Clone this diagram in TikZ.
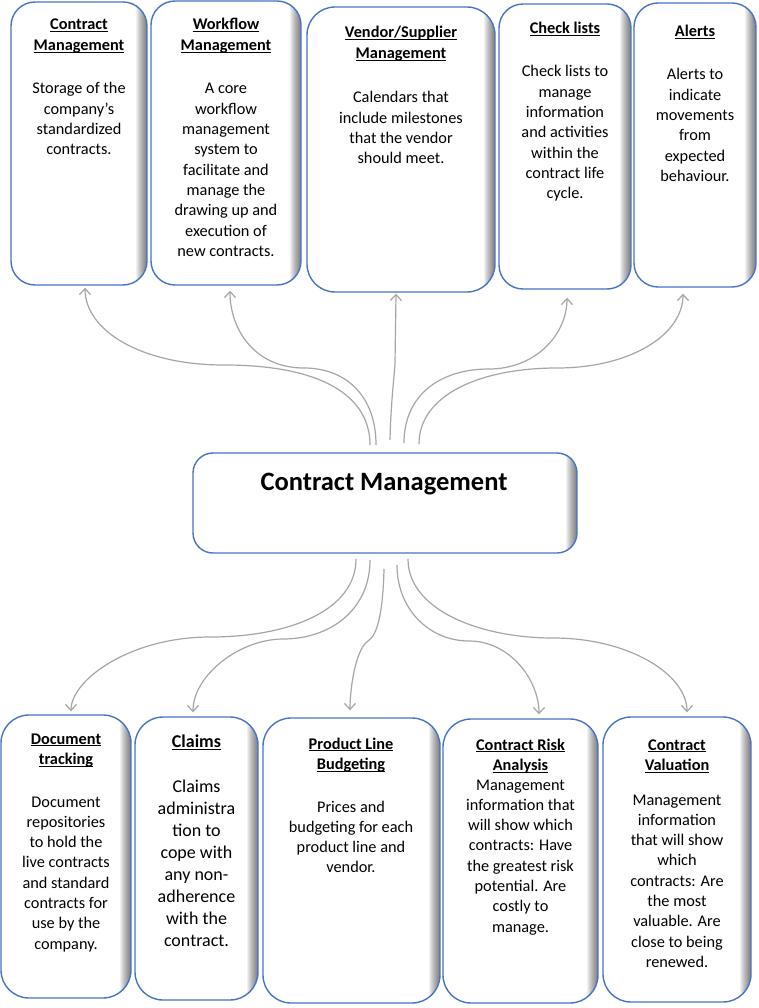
\documentclass[tikz,border=0pt]{standalone}
\usepackage{fontspec}
\setmainfont{Carlito}
\usetikzlibrary{arrows.meta,calc}
\definecolor{boxblue}{RGB}{72,116,196}
\definecolor{conngray}{RGB}{166,166,166}
\newcommand\ulin[1]{\setbox0\hbox{#1}\rlap{\rule[-2.3pt]{\wd0}{0.9pt}}\box0}
\tikzset{
 cbox/.style={draw=boxblue, line width=1.4pt, fill=white, rounded corners=#1, inner sep=0pt,
   path picture={\foreach \i in {1,...,11}{\fill[black, opacity=0.055, sharp corners]
     ([xshift=-\i pt]path picture bounding box.north east) rectangle (path picture bounding box.south east);}}},
 cbox/.default=24pt,
 hdr/.style={align=center, inner sep=0pt, anchor=base, font=\fontsize{16.3}{20.3}\selectfont\bfseries},
 bdy/.style={align=center, inner sep=0pt, anchor=base, font=\fontsize{16.3}{20.3}\selectfont},
 conn/.style={draw=conngray, line width=1.2pt, -{Straight Barb[length=6pt,width=11pt]}},
}
\begin{document}
\begin{tikzpicture}[x=1pt,y=-1pt]
\useasboundingbox (0,0) rectangle (758,1008);
\fill[white] (0,0) rectangle (758,1008);

% top boxes
\node[cbox, minimum width=136pt, minimum height=283pt] (tb1) at (79,143.5) {};
\node[cbox, minimum width=150pt, minimum height=284pt] (tb2) at (226,143) {};
\node[cbox=28pt, minimum width=188pt, minimum height=285pt] (tb3) at (401,149.5) {};
\node[cbox, minimum width=132pt, minimum height=285pt] (tb4) at (565,146.5) {};
\node[cbox, minimum width=122pt, minimum height=284pt] (tb5) at (695,145) {};

% (anchor=base is the baseline of the last line)
\node[hdr] (tb1h) at (79,50.3) {\ulin{Contract}\\\ulin{Management}};
\node[bdy] (tb1t) at (79,154.9) {Storage of the\\company’s\\standardized\\contracts.};
\node[hdr] (tb2h) at (226,50.3) {\ulin{Workflow}\\\ulin{Management}};
\node[bdy] (tb2t) at (226,256.4) {A core\\workflow\\management\\system to\\facilitate and\\manage the\\drawing up and\\execution of\\new contracts.};
\node[hdr] (tb3h) at (401,58.3) {\ulin{Vendor/Supplier}\\\ulin{Management}};
\node[bdy] (tb3t) at (401,163.9) {Calendars that\\include milestones\\that the vendor\\should meet.};
\node[hdr] (tb4h) at (565,34) {\ulin{Check lists}};
\node[bdy] (tb4t) at (565,198.8) {Check lists to\\manage\\information\\and activities\\within the\\contract life\\cycle.};
\node[hdr] (tb5h) at (695,37) {\ulin{Alerts}};
\node[bdy] (tb5t) at (695,181.5) {Alerts to\\indicate\\movements\\from\\expected\\behaviour.};

% central box
\node[cbox=20pt, minimum width=384pt, minimum height=100pt] (cm) at (385,503) {};
\node[anchor=base, inner sep=0pt, font=\fontsize{26.5}{30}\selectfont\bfseries] (cmt) at (384,490.5) {Contract Management};

% bottom boxes
\node[cbox=28pt, minimum width=130pt, minimum height=283pt] (bb1) at (66,856.5) {};
\node[cbox=28pt, minimum width=123pt, minimum height=283pt] (bb2) at (196.5,858.5) {};
\node[cbox=28pt, minimum width=177pt, minimum height=285pt] (bb3) at (351.5,860.5) {};
\node[cbox=28pt, minimum width=155pt, minimum height=284pt] (bb4) at (520.5,861) {};
\node[cbox=28pt, minimum width=148pt, minimum height=285pt] (bb5) at (677,859.5) {};

\node[hdr] (bb1h) at (66,764.3) {\ulin{Document}\\\ulin{tracking}};
\node[bdy] (bb1t) at (66,949.1) {Document\\repositories\\to hold the\\live contracts\\and standard\\contracts for\\use by the\\company.};
\node[hdr, font=\fontsize{18}{22}\selectfont\bfseries] (bb2h) at (196.5,747.5) {\ulin{Claims}};
\node[bdy, font=\fontsize{18}{22}\selectfont] (bb2t) at (196.5,946.5) {Claims\\administra\\tion to\\cope with\\any non-\\adherence\\with the\\contract.};
\node[hdr] (bb3h) at (351,769.3) {\ulin{Product Line}\\\ulin{Budgeting}};
\node[bdy] (bb3t) at (351,872.9) {Prices and\\budgeting for each\\product line and\\vendor.};
\node[hdr] (bb4h) at (520.5,770.3) {\ulin{Contract Risk}\\\ulin{Analysis}};
\node[bdy] (bb4t) at (520.5,932.1) {Management\\information that\\will show which\\contracts: Have\\the greatest risk\\potential. Are\\costly to\\manage.};
\node[hdr] (bb5h) at (677,770.3) {\ulin{Contract}\\\ulin{Valuation}};
\node[bdy] (bb5t) at (677,967.4) {Management\\information\\that will show\\which\\contracts: Are\\the most\\valuable. Are\\close to being\\renewed.};

% connector start points
\coordinate (s1) at (370,445);
\coordinate (s2) at (376,445);
\coordinate (s3) at (390,440);
\coordinate (s4) at (404,443);
\coordinate (s5) at (419,444);
\coordinate (r1) at (356,559);
\coordinate (r2) at (370,560);
\coordinate (r3) at (384,569);
\coordinate (r4) at (397,565);
\coordinate (r5) at (408,559);

% top connectors
\draw[conn] (s1) .. controls (370,395) and (320,365) .. (224,365) .. controls (140,365) and (85,330) .. ($(tb1.south)+(6,2)$);
\draw[conn] (s2) .. controls (376,395) and (345,368) .. (304,368) .. controls (255,368) and (230,330) .. ($(tb2.south)+(4,5)$);
\draw[conn] (s3) .. controls (391,400) and (394,380) .. (395,363) -- ($(tb3.south)+(-5,1)$);
\draw[conn] (s4) .. controls (404,395) and (440,369) .. (489,369) .. controls (535,369) and (567,335) .. ($(tb4.south)+(2,8)$);
\draw[conn] (s5) .. controls (419,395) and (480,368) .. (557,368) .. controls (630,368) and (683,335) .. ($(tb5.south)+(-12,6)$);

% bottom connectors
\draw[conn] (r1) .. controls (356,610) and (290,637) .. (210,637) .. controls (130,637) and (71,680) .. ($(bb1.north)+(5,-3)$);
\draw[conn] (r2) .. controls (370,610) and (330,639) .. (283,639) .. controls (240,639) and (193,675) .. ($(bb2.north)+(-3.5,-4)$);
\draw[conn] (r3) .. controls (383,610) and (378,635) .. (368,641) .. controls (355,650) and (350,690) .. ($(bb3.north)+(-1.5,-7)$);
\draw[conn] (r4) .. controls (397,610) and (430,641) .. (469,641) .. controls (510,641) and (539,680) .. ($(bb4.north)+(18.5,-4)$);
\draw[conn] (r5) .. controls (408,610) and (480,638) .. (553,638) .. controls (630,638) and (687,675) .. ($(bb5.north)+(10,-4)$);
\end{tikzpicture}
\end{document}
